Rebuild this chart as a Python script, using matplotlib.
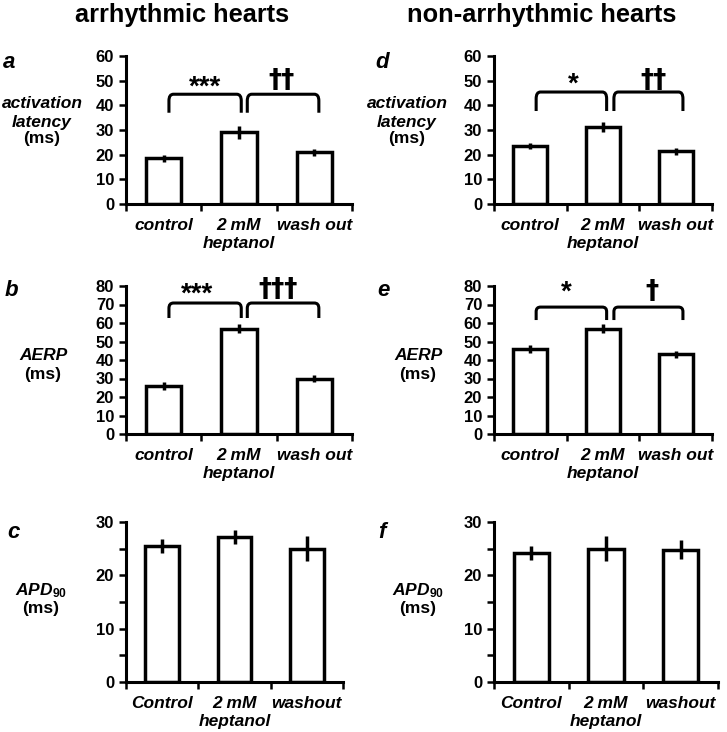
import matplotlib
matplotlib.use("Agg")
import matplotlib.pyplot as plt
from matplotlib.path import Path
from matplotlib.patches import PathPatch
import numpy as np

plt.rcParams['font.family'] = ['Liberation Sans', 'DejaVu Sans']
plt.rcParams['font.weight'] = 'bold'
plt.rcParams['mathtext.fontset'] = 'custom'
plt.rcParams['mathtext.it'] = 'Liberation Sans:italic:bold'
plt.rcParams['mathtext.rm'] = 'Liberation Sans:bold'

W, H = 727, 732

# data
cats_ab = ['control', '2 mM\nheptanol', 'wash out']
cats_c = ['Control', '2 mM\nheptanol', 'washout']

lat_arr = [18.5, 29.0, 21.0]
lat_arr_err = [1.5, 2.5, 1.5]
aerp_arr = [26.0, 57.0, 30.0]
aerp_arr_err = [2.0, 2.5, 2.0]
apd_arr = [25.5, 27.2, 25.0]
apd_arr_err = [1.4, 1.3, 2.4]

lat_non = [23.5, 31.2, 21.3]
lat_non_err = [1.3, 2.0, 1.3]
aerp_non = [46.0, 57.0, 43.0]
aerp_non_err = [2.0, 2.5, 2.0]
apd_non = [24.2, 25.0, 24.8]
apd_non_err = [1.3, 2.4, 1.8]


def px_box(x0, y_top, x1, y_bot):
    return [x0 / W, 1 - y_bot / H, (x1 - x0) / W, (y_bot - y_top) / H]


def draw_panel(rect, vals, errs, cats, ymax, ystep, minor=None):
    ax = fig.add_axes(rect)
    x = np.arange(len(vals)) + 0.5
    ax.bar(x, vals, width=0.47, color='white', edgecolor='black', linewidth=2.5, zorder=2)
    ax.errorbar(x, vals, yerr=errs, fmt='none', ecolor='black', elinewidth=2.5, capsize=0, zorder=3)
    ax.set_xlim(0, 3)
    ax.set_ylim(0, ymax)
    ax.set_yticks(np.arange(0, ymax + 1, ystep))
    if minor is not None:
        ax.set_yticks(minor, minor=True)
    ax.set_xticks([0, 1, 2, 3])
    ax.set_xticklabels([])
    ax.set_xticks(x, minor=True)
    labels = ax.set_xticklabels(cats, minor=True, fontstyle='italic', fontweight='bold', fontsize=12.5)
    for lbl in labels:
        lbl.set_linespacing(1.25)
    ax.tick_params(axis='x', which='minor', length=0, pad=10)
    ax.tick_params(axis='x', which='major', length=5, width=1.8, direction='out')
    ax.tick_params(axis='y', which='both', length=5, width=1.8, direction='out', labelsize=12)
    for lbl in ax.get_yticklabels():
        lbl.set_fontweight('bold')
    for s in ['top', 'right']:
        ax.spines[s].set_visible(False)
    for s in ['left', 'bottom']:
        ax.spines[s].set_linewidth(2.2)
    return ax


def bracket(ax, x0, x1, ytop, ybot):
    rx, ry = 0.06, (ytop - ybot) * 0.35
    verts = [(x0, ybot), (x0, ytop - ry), (x0, ytop), (x0 + rx, ytop),
             (x1 - rx, ytop), (x1, ytop), (x1, ytop - ry), (x1, ybot)]
    codes = [Path.MOVETO, Path.LINETO, Path.CURVE3, Path.CURVE3,
             Path.LINETO, Path.CURVE3, Path.CURVE3, Path.LINETO]
    ax.add_patch(PathPatch(Path(verts, codes), fill=False, edgecolor='black', lw=2.2,
                           clip_on=False, zorder=4))


def mark(ax, x, y, s, dagger=False):
    if dagger:
        ax.text(x, y, s, ha='center', va='baseline', fontsize=19, family='DejaVu Sans',
                fontweight='bold')
    else:
        ax.text(x, y, s, ha='center', va='baseline', fontsize=20)


def ylab(cx, lines):
    # lines: (text, y pixel, italic)
    for txt, py, it in lines:
        fig.text(cx / W, 1 - py / H, txt, ha='center', va='center', fontsize=12.5,
                 fontweight='bold', fontstyle='italic' if it else 'normal')


fig = plt.figure(figsize=(W / 100, H / 100), dpi=100)

fig.text(182 / W, 1 - 15 / H, 'arrhythmic hearts', ha='center', va='center', fontsize=18.3, fontweight='bold')
fig.text(542 / W, 1 - 15 / H, 'non-arrhythmic hearts', ha='center', va='center', fontsize=18.3, fontweight='bold')

# panel a
ax = draw_panel(px_box(126, 56, 352, 204), lat_arr, lat_arr_err, cats_ab, 60, 10)
bracket(ax, 0.57, 1.53, 44.5, 37)
bracket(ax, 1.61, 2.56, 44.5, 37)
mark(ax, 1.05, 44.2, '***')
mark(ax, 2.06, 47.0, '\u2020\u2020', dagger=True)

# panel b
ax = draw_panel(px_box(126, 286, 352, 434), aerp_arr, aerp_arr_err, cats_ab, 80, 10)
bracket(ax, 0.57, 1.53, 70.8, 62.7)
bracket(ax, 1.61, 2.56, 70.8, 62.7)
mark(ax, 0.94, 71.5, '***')
mark(ax, 2.02, 74.0, '\u2020\u2020\u2020', dagger=True)

# panel c
ax = draw_panel(px_box(126, 522, 343, 682), apd_arr, apd_arr_err, cats_c, 30, 10, minor=[5, 15, 25])

# panel d
ax = draw_panel(px_box(494, 56, 712, 204), lat_non, lat_non_err, cats_ab, 60, 10)
bracket(ax, 0.58, 1.55, 45.4, 37.7)
bracket(ax, 1.65, 2.6, 45.4, 37.7)
mark(ax, 1.09, 45.4, '*')
mark(ax, 2.19, 47.0, '\u2020\u2020', dagger=True)

# panel e
ax = draw_panel(px_box(494, 286, 712, 434), aerp_non, aerp_non_err, cats_ab, 80, 10)
bracket(ax, 0.58, 1.55, 68.6, 61.6)
bracket(ax, 1.65, 2.6, 68.6, 61.6)
mark(ax, 1.0, 72.4, '*')
mark(ax, 2.17, 73.0, '\u2020', dagger=True)

# panel f
ax = draw_panel(px_box(494, 522, 718, 682), apd_non, apd_non_err, cats_c, 30, 10, minor=[5, 15, 25])

# panel letters
for lt, px, py in [('a', 3, 62), ('b', 5, 290), ('c', 7, 533),
                   ('d', 375, 62), ('e', 377, 290), ('f', 378, 533)]:
    fig.text(px / W, 1 - py / H, lt, ha='left', va='center', fontsize=16,
             fontweight='bold', fontstyle='italic')

# y labels
for cx in [42, 407]:
    ylab(cx, [('activation', 104, True), ('latency', 122, True), ('(ms)', 138, False)])
for cx in [43, 418]:
    ylab(cx, [('AERP', 356, True), ('(ms)', 375, False)])
for cx in [41, 418]:
    fig.text(cx / W, 1 - 591 / H, r'$APD_{\mathit{90}}$', ha='center', va='center', fontsize=12.5)
    ylab(cx, [('(ms)', 608, False)])

fig.savefig('out.png', dpi=100)
